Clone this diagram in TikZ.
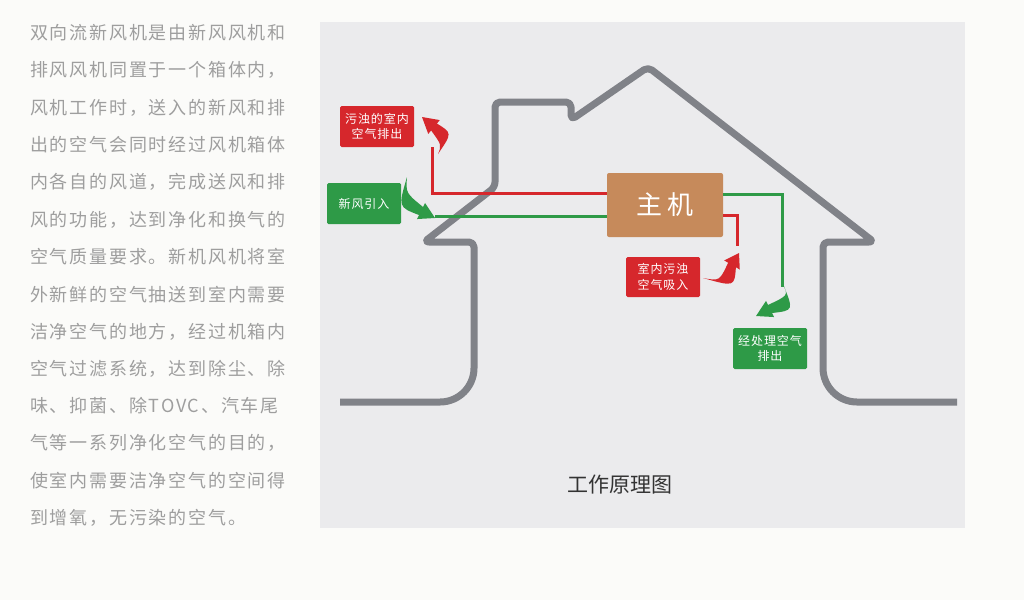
\documentclass[tikz,border=0pt]{standalone}
\usepackage{fontspec}
\usetikzlibrary{calc}
\newfontfamily\cjk{Noto Sans CJK SC}
\newfontfamily\cjkbody{Noto Sans CJK SC}[LetterSpace=10]
\newfontfamily\cjklbl{Noto Sans CJK SC}[LetterSpace=8]
\definecolor{pagebg}{HTML}{FBFBF9}
\definecolor{panelbg}{HTML}{EBEBED}
\definecolor{housegray}{HTML}{808288}
\definecolor{bodytext}{HTML}{9E9E9E}
\definecolor{capt}{HTML}{333333}
\definecolor{flowred}{HTML}{D6272C}
\definecolor{flowgreen}{HTML}{2E9A47}
\definecolor{hosttan}{HTML}{C68A5B}
\newcommand\taper[5][]{\fill[#1] (#2) .. controls ($(#3)!8pt!90:(#5)$) .. ($(#4)!4.5pt!90:(#5)$) -- ($(#4)!9pt!90:(#5)$) -- (#5) -- ($(#4)!9pt!-90:(#5)$) -- ($(#4)!4.5pt!-90:(#5)$) .. controls ($(#3)!8pt!-90:(#5)$) .. (#2) -- cycle;}
\tikzset{
  bodyline/.style={anchor=west, inner sep=0pt, text=bodytext, font=\cjkbody\fontsize{18}{18}\selectfont},
  house/.style={draw=housegray, line width=7pt, line join=round, line cap=butt},
  redflow/.style={draw=flowred, line width=3pt},
  greenflow/.style={draw=flowgreen, line width=3pt},
  lbl/.style={inner sep=0pt, minimum width=74pt, minimum height=41pt, rounded corners=1.5pt, text=white, align=center, font=\cjklbl\fontsize{12}{15.5}\selectfont},
  redlbl/.style={lbl, fill=flowred},
  greenlbl/.style={lbl, fill=flowgreen},
}
\begin{document}
\begin{tikzpicture}[x=1pt,y=-1pt]
\fill[pagebg] (0,0) rectangle (1024,600);
\useasboundingbox (0,0) rectangle (1024,600);
\fill[panelbg] (320,22) rectangle (965,528);
% left text
\foreach \t [count=\i from 0] in {双向流新风机是由新风风机和,排风风机同置于一个箱体内，,风机工作时，送入的新风和排,出的空气会同时经过风机箱体,内各自的风道，完成送风和排,风的功能，达到净化和换气的,空气质量要求。新机风机将室,外新鲜的空气抽送到室内需要,洁净空气的地方，经过机箱内,空气过滤系统，达到除尘、除,味、抑菌、除TOVC、汽车尾,气等一系列净化空气的目的，,使室内需要洁净空气的空间得,到增氧，无污染的空气。}
  \node[bodyline] (line\i) at (30,{33+37.3*\i}) {\t};
% house outline
\draw[house, rounded corners=5pt] (340,402) [rounded corners=34pt] -- (474,402) [rounded corners=5pt] -- (474,242) -- (424,242) -- (495,187) -- (495,102) -- (571,102) -- (571,120) -- (648,67) -- (874,242) -- (823,242) [rounded corners=34pt] -- (823,402) -- (957,402);
% host
\node[fill=hosttan, rounded corners=2pt, minimum width=116pt, minimum height=64pt, inner sep=0pt, text=white, font=\cjk\fontsize{26}{26}\selectfont] (host) at (665,205) {主\hspace{6pt}机};
% labels
\node[redlbl] (lblOut) at (377,126.5) {污浊的室内\\空气排出};
\node[greenlbl] (lblIn) at (364,203.5) {新风引入};
\node[redlbl, minimum height=40pt] (lblSuck) at (663,277) {室内污浊\\空气吸入};
\node[greenlbl] (lblExh) at (770,348.5) {经处理空气\\排出};
% flow lines
\coordinate (r0) at (432,147);
\coordinate (g0) at (435,216);
\coordinate (g1) at (782,287);
\coordinate (r1) at (737,246);
\draw[redflow] (r0) |- ([yshift=12pt]host.west);
\draw[greenflow] (g0) -- ([yshift=-11pt]host.west);
\draw[greenflow] ([yshift=11pt]host.east) -| (g1);
\draw[redflow] ([yshift=-10pt]host.east) -| (r1);
% curved arrows
\coordinate (tA) at (438,154); \coordinate (cA) at (447,139); \coordinate (bA) at (434,127); \coordinate (hA) at (422,117);
\taper[flowred]{tA}{cA}{bA}{hA}
\coordinate (tB) at (407,177); \coordinate (cB) at (402,200); \coordinate (bB) at (421,211); \coordinate (hB) at (435,218);
\taper[flowgreen]{tB}{cB}{bB}{hB}
\coordinate (tC) at (703,278); \coordinate (cC) at (727,284); \coordinate (bC) at (732,265); \coordinate (hC) at (739,253);
\taper[flowred]{tC}{cC}{bC}{hC}
\coordinate (tD) at (783,284); \coordinate (cD) at (791,303); \coordinate (bD) at (770,309); \coordinate (hD) at (756,316);
\taper[flowgreen]{tD}{cD}{bD}{hD}
% caption
\node[text=capt, font=\cjk\fontsize{21}{21}\selectfont, inner sep=0pt] (caption) at (620,485) {工作原理图};
\end{tikzpicture}
\end{document}
